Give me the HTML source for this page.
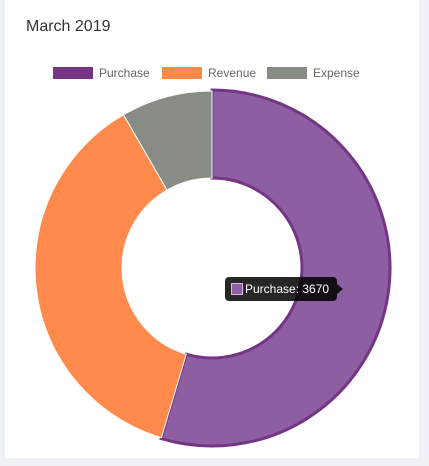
<!DOCTYPE html>
<html><head><meta charset="utf-8"><style>
body{margin:0;width:429px;height:466px;background:#eef2f7;overflow:hidden;font-family:"Liberation Sans",sans-serif}
#card{position:absolute;left:5px;top:-4px;width:414px;height:462px;background:#fff;border-radius:4px}
#title{position:absolute;left:26px;top:18px;font-size:16px;color:#333}
</style></head><body>
<div id="card"></div>
<div id="title">March 2019</div>
<svg id="chart" width="429" height="466" style="position:absolute;left:0;top:0"></svg>
<script>
const categories=["Purchase","Revenue","Expense"];
const values=[3670,2490,560];
const colors=["#8e5ea2","#ff8a4c","#878c85"];
const legendColors=["#743584","#ff8a4c","#878c85"];
const NS="http://www.w3.org/2000/svg";
const svg=document.getElementById("chart");
const cx=212,cy=268,R=177,r=90;
const total=values.reduce((a,b)=>a+b,0);
function pt(a,rad){return [cx+rad*Math.sin(a),cy-rad*Math.cos(a)];}
let a0=0;
values.forEach((v,i)=>{
  const a1=a0+v/total*2*Math.PI;
  const hov=i===0;
  const Ro=hov?R+1:R;
  const [x1,y1]=pt(a0,Ro),[x2,y2]=pt(a1,Ro),[x3,y3]=pt(a1,r),[x4,y4]=pt(a0,r);
  const lg=(a1-a0)>Math.PI?1:0;
  const p=document.createElementNS(NS,"path");
  p.setAttribute("d",`M${x1},${y1}A${Ro},${Ro} 0 ${lg} 1 ${x2},${y2}L${x3},${y3}A${r},${r} 0 ${lg} 0 ${x4},${y4}Z`);
  p.setAttribute("fill",colors[i]);
  p.setAttribute("stroke",hov?"#743584":"#fff");
  p.setAttribute("stroke-width",hov?3:1);
  
  
  svg.appendChild(p);
  a0=a1;
});
const lx=[53,162,267];
categories.forEach((c,i)=>{
  const g=document.createElementNS(NS,"g");
  
  
  const b=document.createElementNS(NS,"rect");
  b.setAttribute("x",lx[i]);b.setAttribute("y",67);b.setAttribute("width",40);b.setAttribute("height",12);
  b.setAttribute("fill",legendColors[i]);
  g.appendChild(b);
  const t=document.createElementNS(NS,"text");
  t.setAttribute("x",lx[i]+46);t.setAttribute("y",77);t.setAttribute("font-size","12");t.setAttribute("fill","#666");
  t.setAttribute("font-family","Liberation Sans, sans-serif");
  t.textContent=c;
  g.appendChild(t);
  svg.appendChild(g);
});
const tg=document.createElementNS(NS,"g");


tg.innerHTML=`<rect x="225" y="277" width="112" height="24" rx="4" fill="rgba(0,0,0,0.85)"/><path d="M337,284 L343,289 L337,294Z" fill="rgba(0,0,0,0.85)"/><rect x="231.5" y="283.5" width="11" height="11" fill="#8e5ea2" stroke="#d9b8e6"/><text x="245" y="293" font-size="12" fill="#fff" font-family="Liberation Sans, sans-serif">${categories[0]}: ${values[0]}</text>`;
svg.appendChild(tg);
</script>
</body></html>
